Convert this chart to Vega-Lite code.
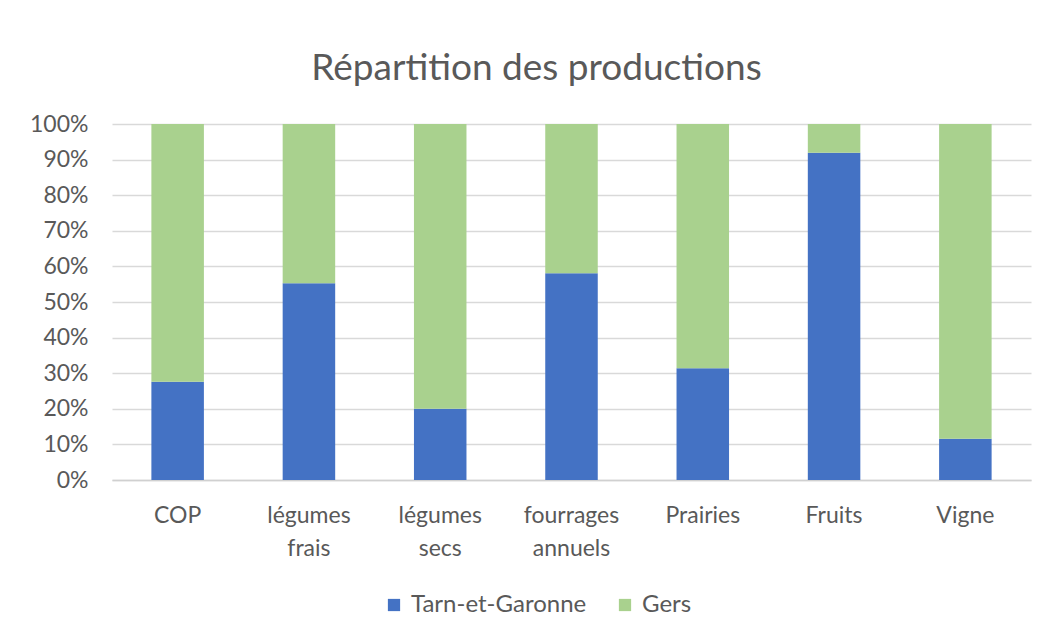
{
  "$schema": "https://vega.github.io/schema/vega-lite/v6.json",
  "autosize": {"type": "none"},
  "width": 919,
  "height": 356,
  "padding": {"left": 112, "top": 124, "right": 18, "bottom": 160},
  "background": "white",
  "title": {
    "text": "Répartition des productions",
    "font": "Lato",
    "fontSize": 37,
    "fontWeight": "normal",
    "color": "#595959",
    "anchor": "middle",
    "offset": 25,
    "dx": -35
  },
  "data": {
    "values": [
      {"culture": "COP", "departement": "Tarn-et-Garonne", "part": 27.6},
      {"culture": "COP", "departement": "Gers", "part": 72.4},
      {"culture": "légumes frais", "departement": "Tarn-et-Garonne", "part": 55.3},
      {"culture": "légumes frais", "departement": "Gers", "part": 44.7},
      {"culture": "légumes secs", "departement": "Tarn-et-Garonne", "part": 20.0},
      {"culture": "légumes secs", "departement": "Gers", "part": 80.0},
      {"culture": "fourrages annuels", "departement": "Tarn-et-Garonne", "part": 58.1},
      {"culture": "fourrages annuels", "departement": "Gers", "part": 41.9},
      {"culture": "Prairies", "departement": "Tarn-et-Garonne", "part": 31.4},
      {"culture": "Prairies", "departement": "Gers", "part": 68.6},
      {"culture": "Fruits", "departement": "Tarn-et-Garonne", "part": 91.9},
      {"culture": "Fruits", "departement": "Gers", "part": 8.1},
      {"culture": "Vigne", "departement": "Tarn-et-Garonne", "part": 11.6},
      {"culture": "Vigne", "departement": "Gers", "part": 88.4}
    ]
  },
  "mark": {"type": "bar"},
  "encoding": {
    "x": {
      "field": "culture",
      "type": "nominal",
      "sort": null,
      "scale": {"paddingInner": 0.6, "paddingOuter": 0.3},
      "axis": {
        "title": null,
        "labelAngle": 0,
        "labelExpr": "split(datum.label, ' ')",
        "labelFont": "Lato",
        "labelFontSize": 23,
        "labelColor": "#595959",
        "labelPadding": 24,
        "labelLineHeight": 33,
        "ticks": false,
        "domainColor": "#d0d0d0",
        "domainWidth": 1.5,
        "grid": false
      }
    },
    "y": {
      "field": "part",
      "type": "quantitative",
      "stack": "normalize",
      "scale": {"domain": [0, 1], "nice": false},
      "axis": {
        "title": null,
        "format": ".0%",
        "values": [0, 0.1, 0.2, 0.3, 0.4, 0.5, 0.6, 0.7, 0.8, 0.9, 1],
        "labelOverlap": false,
        "labelFont": "Lato",
        "labelFontSize": 23,
        "labelColor": "#595959",
        "labelPadding": 24,
        "ticks": false,
        "domain": false,
        "grid": true,
        "gridColor": "#d9d9d9",
        "gridWidth": 1.5
      }
    },
    "color": {
      "field": "departement",
      "type": "nominal",
      "sort": ["Tarn-et-Garonne", "Gers"],
      "scale": {"domain": ["Tarn-et-Garonne", "Gers"], "range": ["#4472C4", "#A9D18E"]},
      "legend": {
        "title": null,
        "orient": "none",
        "direction": "horizontal",
        "legendX": 270,
        "legendY": 469,
        "symbolType": "square",
        "symbolSize": 150,
        "symbolStrokeWidth": 0,
        "labelFont": "Lato",
        "labelFontSize": 24,
        "labelLimit": 400,
        "labelColor": "#595959",
        "columnPadding": 26,
        "labelOffset": 5
      }
    },
    "order": {"field": "departement", "sort": "descending"}
  },
  "config": {"view": {"stroke": null}}
}
